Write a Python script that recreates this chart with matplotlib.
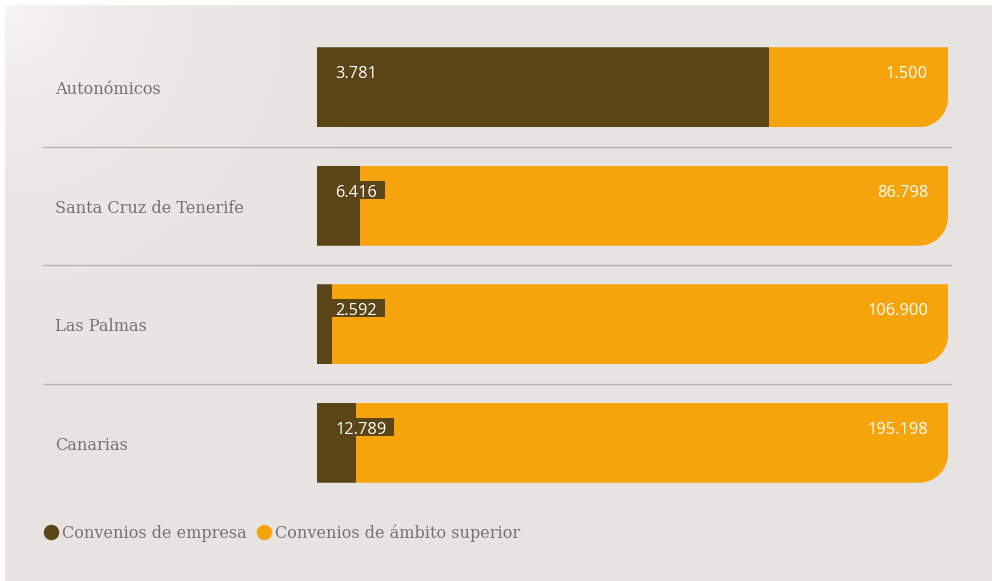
import numpy as np
import matplotlib
matplotlib.use("Agg")
import matplotlib.pyplot as plt
from matplotlib.path import Path
from matplotlib.patches import PathPatch, Rectangle
from matplotlib.lines import Line2D
import matplotlib.transforms as mtransforms

categories = ["Autonómicos", "Santa Cruz de Tenerife", "Las Palmas", "Canarias"]
empresa = [3781, 6416, 2592, 12789]
superior = [1500, 86798, 106900, 195198]
empresa_labels = ["3.781", "6.416", "2.592", "12.789"]
superior_labels = ["1.500", "86.798", "106.900", "195.198"]
legend_labels = ["Convenios de empresa", "Convenios de ámbito superior"]

DARK = "#5b4516"
ORANGE = "#f6a40c"
BASE = np.array([0xe7, 0xe3, 0xe0]) / 255.0
TEXT_GRAY = "#737373"
SERIF = "DejaVu Serif"
SERIF_SIZE = 11.6
NUM_SIZE = 11.8

W, H, DPI = 992, 581, 100
fig = plt.figure(figsize=(W / DPI, H / DPI), dpi=DPI)
fig.patch.set_facecolor("white")

# background panel with soft light gradient from top-left
bg = fig.add_axes([5 / W, 0, 1 - 5 / W, 1 - 5 / H], zorder=-10)
ny, nx = 200, 340
yy, xx = np.mgrid[0:ny, 0:nx]
d = np.sqrt((xx * 987 / nx) ** 2 + (yy * 576 / ny) ** 2)
t = 0.7 * np.exp(-d / 120.0)
img = BASE[None, None, :] * (1 - t[..., None]) + t[..., None]
img = img.clip(0, 1)
bg.imshow(img, aspect="auto", extent=[0, 1, 0, 1], origin="upper", interpolation="bilinear")
bg.set_axis_off()

# bar axes
x0, x1 = 317, 948
ytop, ybot = 28, 502
ax = fig.add_axes([x0 / W, 1 - ybot / H, (x1 - x0) / W, (ybot - ytop) / H])
ax.set_facecolor("none")
ax.set_xlim(0, 1)
ax.set_ylim(len(categories) - 0.5, -0.5)
ax.set_axis_off()

emp = np.array(empresa, float)
sup = np.array(superior, float)
share = emp / (emp + sup)
ypos = np.arange(len(categories))
px_x = (x1 - x0)  # pixels per x unit
px_y = (ybot - ytop) / len(categories)  # pixels per y unit
bh = 80 / px_y

r_px = 29
rx, ry = r_px / px_x, r_px / px_y

bars_e = ax.barh(ypos, share, height=bh, color=DARK, edgecolor="none", zorder=2)
bars_s = ax.barh(ypos, 1 - share, left=share, height=bh, color=ORANGE, edgecolor="none", zorder=2)

for i, (be, bs) in enumerate(zip(bars_e, bars_s)):
    top = ypos[i] - bh / 2
    bot = ypos[i] + bh / 2
    th = np.linspace(0, np.pi / 2, 24)
    arc = [(1 - rx + rx * np.cos(a), bot - ry + ry * np.sin(a)) for a in th]
    verts = [(0, top), (1, top)] + arc + [(0, bot), (0, top)]
    codes = [Path.MOVETO] + [Path.LINETO] * (len(verts) - 2) + [Path.CLOSEPOLY]
    clip = PathPatch(Path(verts, codes), transform=ax.transData, facecolor="none", edgecolor="none")
    ax.add_patch(clip)
    be.set_clip_path(clip)
    bs.set_clip_path(clip)

# value labels (baseline 9 px above row centre)
base_off_pt = 9 * 72 / DPI
left_texts = []
for i in range(len(categories)):
    tl = ax.annotate(empresa_labels[i], xy=(0, ypos[i]), xytext=(18 * 72 / DPI, base_off_pt),
                     textcoords="offset points", ha="left", va="baseline", color="white",
                     fontsize=NUM_SIZE, family="Open Sans", zorder=5)
    left_texts.append(tl)
    ax.annotate(superior_labels[i], xy=(1, ypos[i]), xytext=(-20 * 72 / DPI, base_off_pt),
                textcoords="offset points", ha="right", va="baseline", color="white",
                fontsize=NUM_SIZE, family="Open Sans", zorder=5)

# dark label boxes sized from the rendered text
fig.canvas.draw()
renderer = fig.canvas.get_renderer()
ax_left_disp = ax.transAxes.transform((0, 0))[0]
for i, tl in enumerate(left_texts):
    bb = tl.get_window_extent(renderer)
    bx0 = (bb.x0 - 4 - ax_left_disp) / px_x
    bx1 = (bb.x1 + 8 - ax_left_disp) / px_x
    ax.add_patch(Rectangle((bx0, ypos[i] - 25 / px_y), bx1 - bx0, 18 / px_y,
                           facecolor=DARK, edgecolor="none", zorder=4))

# category labels and separators
blend = mtransforms.blended_transform_factory(fig.transFigure, ax.transData)
for i, c in enumerate(categories):
    ax.text(55 / W, ypos[i] + 0.02, c, transform=blend, ha="left", va="center",
            fontsize=SERIF_SIZE, family=SERIF, color=TEXT_GRAY)
for i in range(len(categories) - 1):
    ax.add_line(Line2D([43 / W, 951 / W], [i + 0.5, i + 0.5], transform=blend,
                       color="#b7b3af", lw=1.0, clip_on=False))

# legend
fs_px = SERIF_SIZE * DPI / 72
handles = [Line2D([], [], marker="o", ls="none", color=DARK, markersize=14 * 72 / DPI),
           Line2D([], [], marker="o", ls="none", color=ORANGE, markersize=14 * 72 / DPI)]
leg = fig.legend(handles, legend_labels, loc="center left", bbox_to_anchor=(44 / W, 1 - 533 / H),
                 ncol=2, frameon=False, handlelength=14 / fs_px, handletextpad=4 / fs_px,
                 columnspacing=10 / fs_px, borderaxespad=0, borderpad=0,
                 prop={"family": SERIF, "size": SERIF_SIZE})
for t_ in leg.get_texts():
    t_.set_color(TEXT_GRAY)

fig.savefig("out.png", dpi=DPI, facecolor="white")
